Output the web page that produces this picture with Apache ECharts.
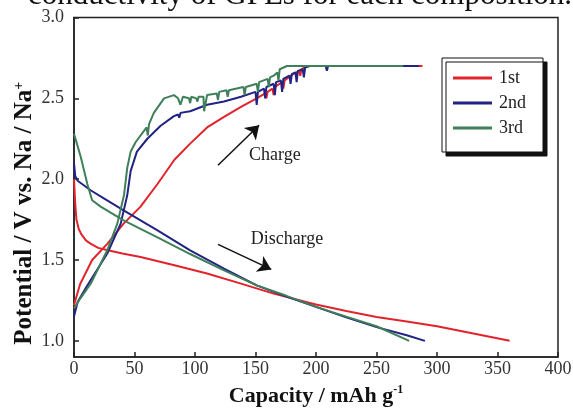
<!DOCTYPE html>
<html>
<head>
    <meta charset="utf-8">
    <title>ECharts</title>
    <script src="https://cdn.jsdelivr.net/npm/echarts@6/dist/echarts.min.js"></script>
</head>
<body style="margin:0">
<div id="main" style="width: 573px;height:408px;"></div>
<script type="text/javascript">
    // cycle names and colours
    var cycles = ['1st', '2nd', '3rd'];
    var colors = ['#e3232c', '#232384', '#3f7f59'];

    // axis ticks
    var xTicks = [0, 50, 100, 150, 200, 250, 300, 350, 400];
    var yTicks = [1.0, 1.5, 2.0, 2.5, 3.0];

    // discharge curves [capacity, potential]
    var discharge1 = [[0, 2.0], [1, 1.85], [2, 1.75], [4, 1.69], [6, 1.66], [10, 1.62], [14, 1.6], [20, 1.575],
        [28, 1.56], [40, 1.54], [55, 1.518], [83, 1.467], [110, 1.416], [138, 1.354], [165, 1.292], [200, 1.225],
        [225, 1.185], [250, 1.148], [275, 1.12], [300, 1.09], [330, 1.045], [360, 1.0]];
    var discharge2 = [[0, 2.1], [1, 2.02], [3, 1.99], [14, 1.93], [25, 1.88], [41, 1.807], [69, 1.683],
        [96, 1.56], [124, 1.447], [151, 1.343], [175, 1.275], [200, 1.21], [225, 1.145], [250, 1.085],
        [275, 1.035], [290, 1.0]];
    var discharge3 = [[0, 2.28], [5.5, 2.14], [11, 1.97], [15, 1.87], [22, 1.83], [41, 1.745], [69, 1.64],
        [96, 1.537], [124, 1.436], [151, 1.343], [175, 1.28], [200, 1.21], [225, 1.15], [250, 1.09], [277, 1.0]];

    // charge curves [capacity, potential]
    var charge1 = [[0, 1.22], [1.5, 1.26], [5, 1.35], [15, 1.5], [27.5, 1.6], [41, 1.725], [55, 1.83], [69, 1.97],
        [83, 2.12], [96, 2.22], [110, 2.32], [124, 2.385], [138, 2.447], [151, 2.5], [158, 2.53], [159, 2.5],
        [160, 2.54], [164, 2.56], [165, 2.52], [166, 2.57], [172, 2.6], [173, 2.56], [174, 2.61], [181, 2.65],
        [186, 2.67], [187, 2.64], [188, 2.68], [192, 2.7], [220, 2.7], [288, 2.7]];
    var charge2 = [[0, 1.15], [3, 1.24], [10, 1.33], [20, 1.45], [27.5, 1.54], [38.6, 1.725], [44, 1.9],
        [46.8, 2.05], [52, 2.17], [60.6, 2.25], [71.6, 2.33], [82.6, 2.39], [86, 2.4], [87, 2.38], [88, 2.41],
        [96, 2.42], [110, 2.46], [124, 2.48], [138, 2.51], [150, 2.54], [151, 2.46], [152, 2.54], [157, 2.56],
        [158, 2.5], [159, 2.57], [165, 2.59], [166, 2.52], [167, 2.6], [171, 2.61], [172, 2.54], [173, 2.62],
        [178, 2.64], [179, 2.59], [180, 2.65], [183, 2.66], [184, 2.6], [185, 2.67], [189, 2.68], [190, 2.63],
        [191, 2.69], [195, 2.7], [208, 2.7], [209, 2.67], [210, 2.7], [285, 2.7]];
    var charge3 = [[0, 1.2], [5, 1.26], [13.8, 1.353], [27.5, 1.56], [35.8, 1.725], [41.3, 1.9], [44, 2.07],
        [46.8, 2.17], [51, 2.23], [60, 2.32], [61, 2.27], [62, 2.34], [66, 2.41], [74.4, 2.5], [82.6, 2.52],
        [86, 2.5], [88, 2.46], [90, 2.51], [95, 2.5], [96, 2.47], [97, 2.51], [101, 2.5], [102, 2.48],
        [103, 2.51], [107, 2.51], [107.5, 2.42], [110, 2.52], [118, 2.53], [119, 2.49], [120, 2.54], [126, 2.55],
        [127, 2.51], [128, 2.55], [140, 2.57], [141, 2.52], [142, 2.57], [151, 2.59], [152, 2.54], [153, 2.6],
        [160, 2.62], [161, 2.57], [162, 2.63], [165, 2.64], [168, 2.66], [169, 2.61], [170, 2.68], [176, 2.7],
        [272, 2.7]];

    var curves = [[discharge1, charge1], [discharge2, charge2], [discharge3, charge3]];

    var myChart = echarts.init(document.getElementById('main'));

    var series = [];
    curves.forEach(function (pair, i) {
        pair.forEach(function (d) {
            series.push({
                name: cycles[i],
                type: 'line',
                data: d,
                showSymbol: false,
                symbol: 'none',
                lineStyle: {color: colors[i], width: 2},
                itemStyle: {color: colors[i]},
                animation: false,
                z: 2 + i
            });
        });
    });

    // arrows
    series.push({
        type: 'line',
        data: [],
        silent: true,
        animation: false,
        markLine: {
            silent: true,
            animation: false,
            symbol: ['none', 'arrow'],
            symbolSize: 13,
            label: {show: false},
            lineStyle: {color: '#111', width: 1.5, type: 'solid'},
            data: [
                [{coord: [119, 2.086]}, {coord: [153, 2.334]}],
                [{coord: [119, 1.597]}, {coord: [163, 1.442]}]
            ]
        }
    });

    var serif = 'Liberation Serif';
    var titleText = {
        type: 'text', left: 28, top: -20, silent: true,
        style: {text: 'conductivity of GPEs for each composition.', font: '31px "Liberation Serif"', fill: '#111'}
    };

    var option = {
        textStyle: {fontFamily: serif},
        grid: {
            left: 74, right: 15, top: 17.5, bottom: 51,
            outerBoundsMode: 'none',
            show: true, borderColor: '#222', borderWidth: 1.5, backgroundColor: '#fff'
        },
        legend: {
            data: cycles,
            orient: 'vertical',
            left: 442, top: 58,
            width: 102,
            padding: [11, 17, 15, 11],
            itemGap: 7,
            itemWidth: 39, itemHeight: 3,
            icon: 'rect',
            backgroundColor: '#fff',
            borderColor: '#111', borderWidth: 1,
            shadowColor: '#111', shadowBlur: 0, shadowOffsetX: 4, shadowOffsetY: 4,
            textStyle: {fontFamily: serif, fontSize: 18, color: '#222', padding: [0, 0, 0, 2]}
        },
        xAxis: {
            type: 'value',
            min: 0, max: 400, interval: 50,
            splitLine: {show: false},
            axisLine: {lineStyle: {color: '#222', width: 1.5}},
            axisTick: {inside: true, length: 5, lineStyle: {color: '#222', width: 1.5}},
            axisLabel: {fontFamily: serif, fontSize: 18, color: '#333', margin: 3, customValues: xTicks},
            name: '{a|Capacity / mAh g}{s|-1}',
            nameLocation: 'middle',
            nameGap: 27,
            nameTextStyle: {
                rich: {
                    a: {fontFamily: serif, fontSize: 22, fontWeight: 'bold', color: '#111', lineHeight: 24},
                    s: {fontFamily: serif, fontSize: 12, fontWeight: 'bold', color: '#111', verticalAlign: 'top', lineHeight: 24}
                }
            }
        },
        yAxis: {
            type: 'value',
            min: 0.9, max: 3.0,
            splitLine: {show: false},
            axisLine: {lineStyle: {color: '#222', width: 1.5}},
            axisTick: {inside: true, length: 5, customValues: yTicks, lineStyle: {color: '#222', width: 1.5}},
            axisLabel: {
                fontFamily: serif, fontSize: 18, color: '#333', margin: 10, customValues: yTicks,
                formatter: function (v) { return v.toFixed(1); }
            },
            name: '{a|Potential / V vs. Na / Na}{s|+}',
            nameLocation: 'middle',
            nameMoveOverlap: false,
            nameGap: 36,
            nameTextStyle: {
                padding: [0, 52, 0, 0],
                rich: {
                    a: {fontFamily: serif, fontSize: 25, fontWeight: 'bold', color: '#111', lineHeight: 26},
                    s: {fontFamily: serif, fontSize: 14, fontWeight: 'bold', color: '#111', verticalAlign: 'top', lineHeight: 26}
                }
            }
        },
        graphic: [titleText],
        series: series
    };

    myChart.setOption(option);

    // annotation labels placed in data space
    var p1 = myChart.convertToPixel({gridIndex: 0}, [166, 2.148]);
    var p2 = myChart.convertToPixel({gridIndex: 0}, [176, 1.628]);
    myChart.setOption({
        graphic: [
            titleText,
            {
                type: 'text', x: p1[0], y: p1[1], silent: true,
                style: {text: 'Charge', font: '18px "Liberation Serif"', fill: '#222', align: 'center', verticalAlign: 'middle'}
            },
            {
                type: 'text', x: p2[0], y: p2[1], silent: true,
                style: {text: 'Discharge', font: '18px "Liberation Serif"', fill: '#222', align: 'center', verticalAlign: 'middle'}
            }
        ]
    });
</script>
</body>
</html>
